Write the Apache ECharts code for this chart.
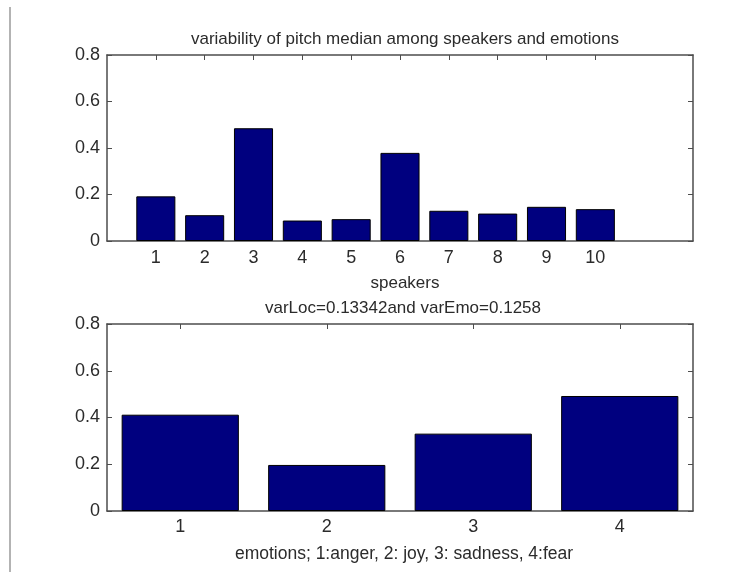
<!DOCTYPE html>
<html>
<head>
<meta charset="utf-8">
<script src="https://cdn.jsdelivr.net/npm/echarts@6/dist/echarts.min.js"></script>
<style>
  html, body { margin: 0; padding: 0; background: #ffffff; }
  #chart { width: 752px; height: 572px; }
</style>
</head>
<body>
<div id="chart"></div>
<script>
// Speaker-level variability (top panel)
const speakers = [1, 2, 3, 4, 5, 6, 7, 8, 9, 10];
const speakerValues = [0.192, 0.111, 0.485, 0.088, 0.094, 0.379, 0.130, 0.118, 0.147, 0.137];

// Emotion-level variability (bottom panel)
const emotions = ['1', '2', '3', '4'];
const emotionValues = [0.412, 0.197, 0.331, 0.492];

const yTicks = [0, 0.2, 0.4, 0.6, 0.8];

const mainTitle = 'variability of pitch median among speakers and emotions';
const speakerLabel = 'speakers';
const summaryLabel = 'varLoc=0.13342and varEmo=0.1258';
const emotionLabel = 'emotions; 1:anger, 2: joy, 3: sadness, 4:fear';

const FONT = '"Liberation Sans", Arial, Helvetica, sans-serif';
const FRAME = '#4d4d4d';
const TEXT = '#2b2b2b';
const BAR = '#00007f';

const chart = echarts.init(document.getElementById('chart'));

const frameLine = { show: true, onZero: false, lineStyle: { color: FRAME, width: 1.5 } };
const innerTick = { show: true, inside: true, length: 5, lineStyle: { color: FRAME, width: 1 } };
const tickLabel = { color: TEXT, fontFamily: FONT, fontSize: 18 };
const labelText = { color: TEXT, fontFamily: FONT, fontSize: 17, fontWeight: 'normal' };

function yAxes(gridIndex) {
  return [
    {
      type: 'value', gridIndex, min: yTicks[0], max: yTicks[yTicks.length - 1], interval: 0.2,
      axisLine: frameLine, axisTick: innerTick, splitLine: { show: false },
      axisLabel: Object.assign({ margin: 7, formatter: v => String(+v.toFixed(1)) }, tickLabel)
    },
    {
      type: 'value', gridIndex, position: 'right', min: yTicks[0], max: yTicks[yTicks.length - 1], interval: 0.2,
      axisLine: frameLine, axisTick: innerTick, splitLine: { show: false },
      axisLabel: { show: false }
    }
  ];
}

const option = {
  backgroundColor: '#ffffff',
  animation: false,
  title: [
    { text: mainTitle, left: 400, top: 26, textAlign: 'center', textStyle: labelText },
    { text: speakerLabel, left: 400, top: 270, textAlign: 'center', textStyle: labelText },
    { text: summaryLabel, left: 398, top: 295, textAlign: 'center', textStyle: labelText },
    { text: emotionLabel, left: 399, top: 540, textAlign: 'center',
      textStyle: Object.assign({}, labelText, { fontSize: 17.5 }) }
  ],
  graphic: [
    { type: 'line', shape: { x1: 10, y1: 7, x2: 10, y2: 572 },
      style: { stroke: '#9a9a9a', lineWidth: 1.5 } }
  ],
  grid: [
    { left: 107, right: 59, top: 55, height: 186 },
    { left: 107, right: 59, top: 324, height: 187 }
  ],
  xAxis: [
    {
      type: 'value', gridIndex: 0, min: 0, max: 12, interval: 1,
      axisLine: frameLine, splitLine: { show: false },
      axisTick: Object.assign({ customValues: speakers }, innerTick),
      axisLabel: Object.assign({ margin: 8, customValues: speakers }, tickLabel)
    },
    {
      type: 'value', gridIndex: 0, position: 'top', min: 0, max: 12, interval: 1,
      axisLine: frameLine, splitLine: { show: false },
      axisTick: Object.assign({ customValues: speakers }, innerTick),
      axisLabel: { show: false }
    },
    {
      type: 'category', gridIndex: 1, data: emotions, boundaryGap: true,
      axisLine: frameLine, splitLine: { show: false },
      axisTick: Object.assign({ alignWithLabel: true }, innerTick),
      axisLabel: Object.assign({ margin: 7 }, tickLabel)
    },
    {
      type: 'category', gridIndex: 1, data: emotions, boundaryGap: true, position: 'top',
      axisLine: frameLine, splitLine: { show: false },
      axisTick: Object.assign({ alignWithLabel: true }, innerTick),
      axisLabel: { show: false }
    }
  ],
  yAxis: [...yAxes(0), ...yAxes(1)],
  series: [
    {
      type: 'bar', xAxisIndex: 0, yAxisIndex: 0, barWidth: '80%',
      data: speakers.map((s, i) => [s, speakerValues[i]]),
      itemStyle: { color: BAR, borderColor: '#000000', borderWidth: 1 }
    },
    {
      type: 'bar', xAxisIndex: 2, yAxisIndex: 2, barWidth: '80%',
      data: emotionValues,
      itemStyle: { color: BAR, borderColor: '#000000', borderWidth: 1 }
    }
  ]
};

chart.setOption(option);
</script>
</body>
</html>
